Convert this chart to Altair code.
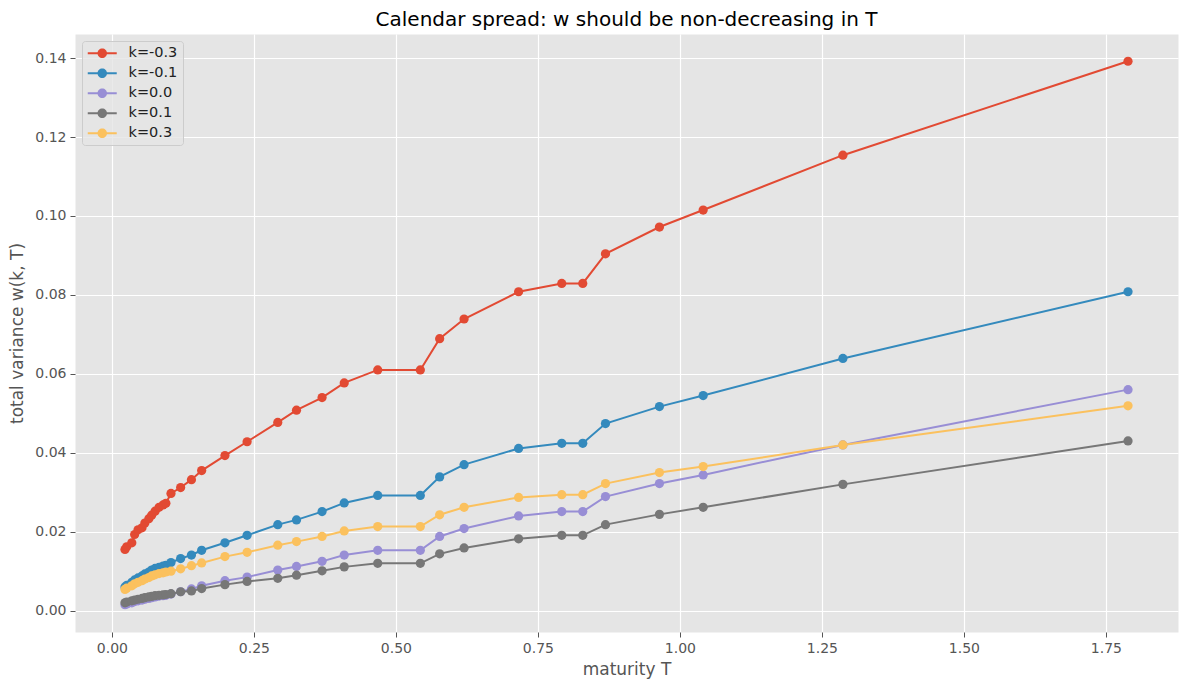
import altair as alt
import pandas as pd

# maturities (years)
T = [0.023, 0.026, 0.035, 0.040, 0.046, 0.053, 0.058, 0.065, 0.070, 0.076,
     0.083, 0.090, 0.095, 0.104, 0.121, 0.140, 0.158, 0.199, 0.238, 0.292,
     0.325, 0.370, 0.409, 0.468, 0.543, 0.577, 0.620, 0.716, 0.792, 0.829,
     0.869, 0.964, 1.041, 1.287, 1.789]

w_km03 = [0.0155, 0.0162, 0.0172, 0.0193, 0.0205, 0.0210, 0.0222, 0.0233, 0.0242, 0.0252,
          0.0262, 0.0268, 0.0272, 0.0297, 0.0312, 0.0332, 0.0355, 0.0393, 0.0428, 0.0477,
          0.0508, 0.0540, 0.0577, 0.0610, 0.0610, 0.0689, 0.0739, 0.0808, 0.0829, 0.0829,
          0.0904, 0.0972, 0.1015, 0.1154, 0.1392]
w_km01 = [0.0060, 0.0064, 0.0072, 0.0078, 0.0083, 0.0088, 0.0093, 0.0098, 0.0103, 0.0107,
          0.0110, 0.0113, 0.0115, 0.0122, 0.0132, 0.0141, 0.0153, 0.0172, 0.0191, 0.0218,
          0.0230, 0.0251, 0.0273, 0.0292, 0.0292, 0.0339, 0.0370, 0.0411, 0.0424, 0.0424,
          0.0474, 0.0517, 0.0545, 0.0639, 0.0808]
w_k00 = [0.0015, 0.0017, 0.0020, 0.0023, 0.0025, 0.0027, 0.0029, 0.0031, 0.0033, 0.0035,
         0.0037, 0.0038, 0.0039, 0.0042, 0.0048, 0.0055, 0.0063, 0.0076, 0.0085, 0.0103,
         0.0112, 0.0125, 0.0141, 0.0153, 0.0153, 0.0188, 0.0208, 0.0240, 0.0251, 0.0251,
         0.0289, 0.0322, 0.0344, 0.0420, 0.0560]
w_k01 = [0.0020, 0.0022, 0.0025, 0.0027, 0.0029, 0.0031, 0.0033, 0.0035, 0.0036, 0.0038,
         0.0039, 0.0040, 0.0041, 0.0043, 0.0048, 0.0050, 0.0056, 0.0066, 0.0074, 0.0082,
         0.0090, 0.0101, 0.0111, 0.0120, 0.0120, 0.0144, 0.0159, 0.0182, 0.0191, 0.0191,
         0.0218, 0.0244, 0.0262, 0.0320, 0.0430]
w_k03 = [0.0054, 0.0057, 0.0063, 0.0068, 0.0072, 0.0076, 0.0080, 0.0084, 0.0088, 0.0091,
         0.0094, 0.0096, 0.0098, 0.0100, 0.0106, 0.0114, 0.0121, 0.0137, 0.0148, 0.0166,
         0.0175, 0.0188, 0.0202, 0.0213, 0.0213, 0.0243, 0.0262, 0.0287, 0.0294, 0.0294,
         0.0322, 0.0350, 0.0365, 0.0420, 0.0519]

labels = ["k=-0.3", "k=-0.1", "k=0.0", "k=0.1", "k=0.3"]
colors = ["#E24A33", "#348ABD", "#988ED5", "#777777", "#FBC15E"]
series = [w_km03, w_km01, w_k00, w_k01, w_k03]

x_ticks = [0.0, 0.25, 0.5, 0.75, 1.0, 1.25, 1.5, 1.75]
y_ticks = [0.0, 0.02, 0.04, 0.06, 0.08, 0.10, 0.12, 0.14]

rows = []
for lab, vals in zip(labels, series):
    for t, v in zip(T, vals):
        rows.append({"T": t, "w": v, "k": lab})
df = pd.DataFrame(rows)

xscale = alt.Scale(domain=[-0.065, 1.877], nice=False, zero=False)
yscale = alt.Scale(domain=[-0.0054, 0.1461], nice=False, zero=False)

xenc = alt.X("T:Q", scale=xscale,
             axis=alt.Axis(values=x_ticks, format=".2f", title="maturity T"))
yenc = alt.Y("w:Q", scale=yscale,
             axis=alt.Axis(values=y_ticks, format=".2f", title="total variance w(k, T)"))

sym_path = ("M-2.9,-0.2H-0.9V0.2H-2.9Z M0.9,-0.2H2.9V0.2H0.9Z "
            "M0.95,0A0.95,0.95,0,1,1,-0.95,0A0.95,0.95,0,1,1,0.95,0Z")

legend = alt.Legend(
    title=None, orient="top-left", offset=7,
    symbolType=sym_path, symbolSize=100, symbolStrokeWidth=0, symbolOffset=8,
    labelOffset=19, labelFontSize=14.5, labelFont="DejaVu Sans", labelColor="#222222",
    rowPadding=5, padding=5,
    fillColor="rgba(229,229,229,0.8)", strokeColor="#CCCCCC", cornerRadius=3,
)

layers = []
for lab, col in zip(labels, colors):
    base = alt.Chart(df).transform_filter(alt.datum.k == lab)
    line = base.mark_line(strokeWidth=2, color=col).encode(x=xenc, y=yenc)
    pts = base.mark_point(filled=True, size=85, opacity=1).encode(
        x=xenc, y=yenc,
        color=alt.Color("k:N", scale=alt.Scale(domain=labels, range=colors), legend=legend),
    )
    layers += [line, pts]

chart = alt.layer(*layers).properties(
    width=1103, height=598,
    title=alt.Title("Calendar spread: w should be non-decreasing in T",
                    fontSize=20, font="DejaVu Sans", fontWeight="normal",
                    color="#000000", anchor="middle", offset=4),
    autosize="none",
    padding={"left": 67, "top": 26, "right": 3, "bottom": 50},
    background="white",
).configure_view(
    fill="#E5E5E5", stroke="transparent"
).configure_axis(
    grid=True, gridColor="#FFFFFF", gridWidth=1.2, domain=False,
    tickColor="#555555", tickSize=5, tickWidth=1,
    labelColor="#555555", labelFont="DejaVu Sans", labelFontSize=14,
    titleColor="#555555", titleFont="DejaVu Sans", titleFontSize=17,
    titleFontWeight="normal", labelPadding=4,
).configure_axisX(titlePadding=6).configure_axisY(titlePadding=8)

chart.save("out.html", embed_options={"renderer": "svg", "actions": False})
